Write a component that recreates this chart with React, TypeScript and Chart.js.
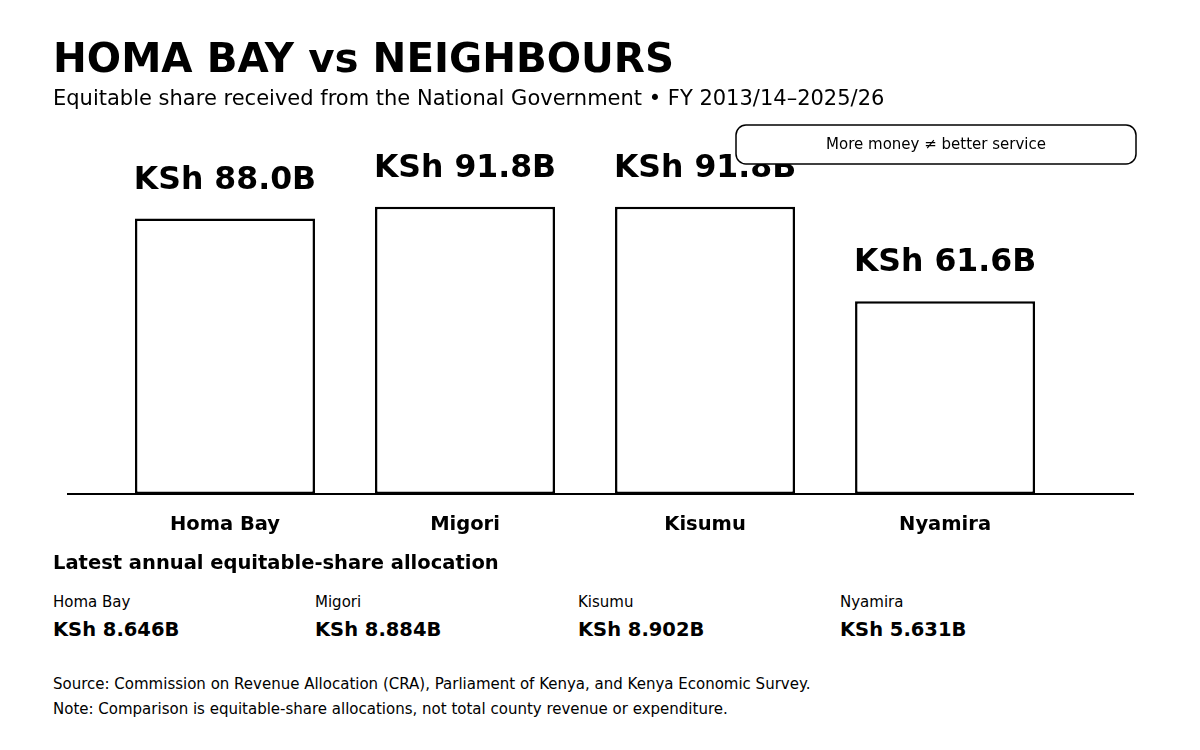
import React, { useEffect, useRef } from "react";
import { Chart, registerables } from "chart.js";

Chart.register(...registerables);

const COUNTIES = ["Homa Bay", "Migori", "Kisumu", "Nyamira"];
const TOTAL_BN = [88.0, 91.8, 91.8, 61.6];
const LATEST_BN = ["8.646", "8.884", "8.902", "5.631"];
const TITLE = "HOMA BAY vs NEIGHBOURS";
const SUBTITLE = "Equitable share received from the National Government • FY 2013/14–2025/26";
const CALLOUT = "More money ≠ better service";
const SECTION = "Latest annual equitable-share allocation";
const SOURCE = "Source: Commission on Revenue Allocation (CRA), Parliament of Kenya, and Kenya Economic Survey.";
const NOTE = "Note: Comparison is equitable-share allocations, not total county revenue or expenditure.";

const FONT = "'DejaVu Sans', sans-serif";

const valueLabels = {
  id: "valueLabels",
  afterDatasetsDraw(chart: any) {
    const ctx = chart.ctx;
    const meta = chart.getDatasetMeta(0);
    ctx.save();
    ctx.fillStyle = "#000";
    ctx.font = `bold 31.5px ${FONT}`;
    ctx.textAlign = "center";
    ctx.textBaseline = "alphabetic";
    meta.data.forEach((bar: any, i: number) => {
      ctx.fillText(`KSh ${TOTAL_BN[i].toFixed(1)}B`, bar.x, bar.y - 30);
    });
    ctx.restore();
  },
};

const callout = {
  id: "callout",
  afterDraw(chart: any) {
    const ctx = chart.ctx;
    const area = chart.chartArea;
    const w = 400;
    const h = 39;
    const x = area.right + 3 - w;
    const y = 125;
    ctx.save();
    ctx.beginPath();
    ctx.roundRect(x, y, w, h, 10);
    ctx.fillStyle = "#fff";
    ctx.fill();
    ctx.lineWidth = 1.5;
    ctx.strokeStyle = "#000";
    ctx.stroke();
    ctx.fillStyle = "#000";
    ctx.font = `15px ${FONT}`;
    ctx.textAlign = "center";
    ctx.textBaseline = "middle";
    ctx.fillText(CALLOUT, x + w / 2, y + h / 2 + 0.5);
    ctx.restore();
  },
};

function TextAt(props: { top: number; left: number; size: number; bold?: boolean; children: any }) {
  return (
    <div
      style={{
        position: "absolute",
        top: props.top,
        left: props.left,
        fontSize: props.size,
        lineHeight: `${props.size}px`,
        fontWeight: props.bold ? "bold" : "normal",
        fontFamily: FONT,
        color: "#000",
        whiteSpace: "nowrap",
      }}
    >
      {props.children}
    </div>
  );
}

export default function App() {
  const ref = useRef<HTMLCanvasElement | null>(null);

  useEffect(() => {
    if (!ref.current) return;
    const chart = new Chart(ref.current, {
      type: "bar",
      data: {
        datasets: [
          {
            data: TOTAL_BN.map((v, i) => ({ x: i, y: v })),
            backgroundColor: "#fff",
            borderColor: "#000",
            borderWidth: 2.5,
            borderSkipped: false,
            categoryPercentage: 1,
            barPercentage: 0.75,
          },
        ],
      },
      options: {
        responsive: false,
        maintainAspectRatio: false,
        animation: false,
        layout: { padding: { left: 68, right: 67, top: 134, bottom: 0 } },
        plugins: {
          legend: { display: false },
          tooltip: { enabled: false },
          title: { display: false },
        },
        scales: {
          x: {
            type: "linear",
            min: -0.654,
            max: 3.783,
            offset: false,
            grid: { display: false, drawTicks: false, offset: false },
            border: { display: true, color: "#000", width: 2 },
            afterBuildTicks: (scale: any) => {
              scale.ticks = COUNTIES.map((_, i) => ({ value: i }));
            },
            afterFit: (scale: any) => {
              scale.height = 66;
            },
            ticks: {
              autoSkip: false,
              maxRotation: 0,
              padding: 19,
              color: "#000",
              font: { family: FONT, size: 19.5, weight: "bold" },
              callback: (v: any) => COUNTIES[Math.round(Number(v))] ?? "",
            },
          },
          y: {
            display: false,
            min: 0,
            max: 115,
          },
        },
      },
      plugins: [valueLabels, callout],
    } as any);
    return () => chart.destroy();
  }, []);

  const colX = [53, 315, 578, 840];

  return (
    <div style={{ position: "absolute", left: 0, top: 0, width: 1200, height: 750, background: "#fff", overflow: "hidden" }}>
      <canvas ref={ref} width={1200} height={560} style={{ position: "absolute", left: 0, top: 0, width: 1200, height: 560 }} />
      <TextAt top={38} left={53} size={40.4} bold>{TITLE}</TextAt>
      <TextAt top={88} left={53} size={21}>{SUBTITLE}</TextAt>
      <TextAt top={553} left={53} size={19.5} bold>{SECTION}</TextAt>
      {COUNTIES.map((c, i) => (
        <TextAt key={"n" + c} top={595} left={colX[i]} size={15}>{c}</TextAt>
      ))}
      {COUNTIES.map((c, i) => (
        <TextAt key={"v" + c} top={620} left={colX[i]} size={19.5} bold>{`KSh ${LATEST_BN[i]}B`}</TextAt>
      ))}
      <TextAt top={677} left={53} size={15}>{SOURCE}</TextAt>
      <TextAt top={702} left={53} size={15}>{NOTE}</TextAt>
    </div>
  );
}
